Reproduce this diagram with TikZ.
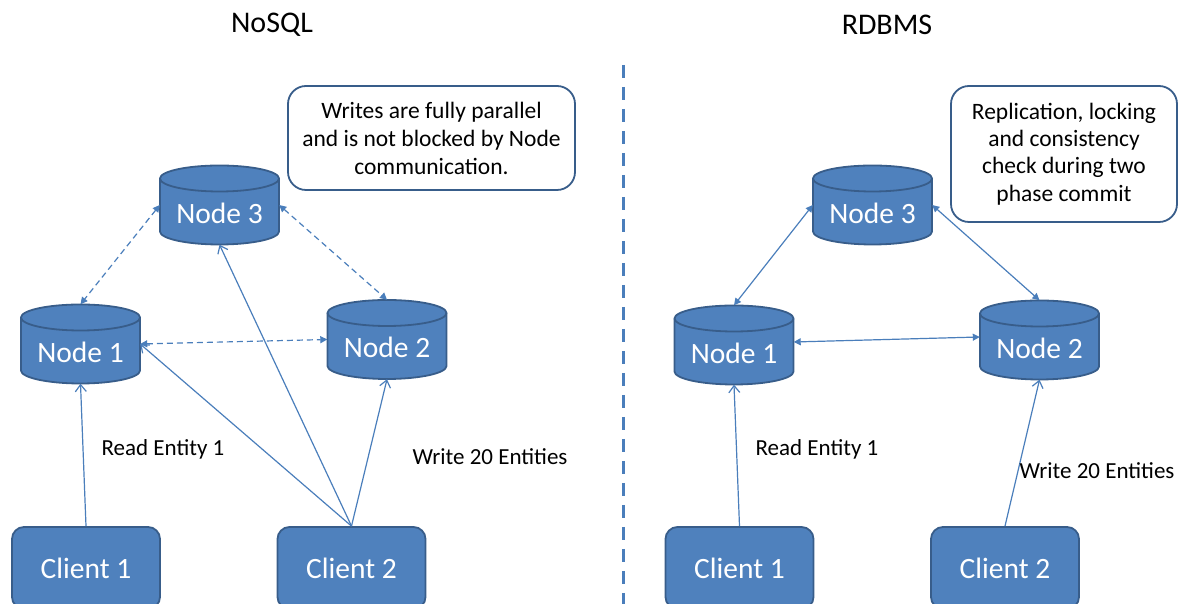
\documentclass[tikz,border=0pt]{standalone}
\usepackage{fontspec}
\setmainfont{Carlito}
\usetikzlibrary{arrows.meta}
\definecolor{cylfill}{HTML}{4F81BD}
\definecolor{cylborder}{HTML}{385D8A}
\definecolor{arrowblue}{HTML}{4A7EBB}
\tikzset{
  dbnode/.style={rectangle, minimum width=119pt, minimum height=79pt, inner sep=0pt},
  clientbox/.style={rectangle, rounded corners=12pt, draw=cylborder, line width=1.8pt, fill=cylfill,
    minimum width=148pt, minimum height=82pt, text=white, font=\fontsize{29.5}{33}\selectfont},
  callout/.style={rectangle, rounded corners=18pt, draw=cylborder, line width=1.8pt, fill=white,
    align=center, inner sep=0pt},
  titletext/.style={font=\fontsize{30}{34}\selectfont},
  labeltext/.style={font=\fontsize{23}{27}\selectfont},
  link/.style={draw=arrowblue, line width=1.2pt},
  openarrow/.style={link, -{Straight Barb[length=7pt,width=11pt,line width=1.2pt]}},
  dblarrow/.style={link, {Triangle[length=7pt,width=7pt]}-{Triangle[length=7pt,width=7pt]}},
  dasharrow/.style={dblarrow, dash pattern=on 6pt off 4pt},
  divider/.style={draw=arrowblue, line width=3pt, dash pattern=on 13pt off 9pt}
}
% \dbcyl{name}{cx}{cy}{text} ; cylinder 119 x 79, ellipse ry 13
\newcommand\dbcyl[4]{%
  \pgfmathsetmacro\cxL{#2-59.5}\pgfmathsetmacro\cxR{#2+59.5}%
  \pgfmathsetmacro\yT{#3+39.5-13}\pgfmathsetmacro\yB{#3-39.5+13}%
  \filldraw[fill=cylfill, draw=cylborder, line width=1.8pt]
    (\cxL,\yT) -- (\cxL,\yB) arc[start angle=180, end angle=360, x radius=59.5pt, y radius=13pt]
    -- (\cxR,\yT) arc[start angle=0, end angle=180, x radius=59.5pt, y radius=13pt] -- cycle;
  \draw[cylborder, line width=1.8pt] (\cxL,\yT) arc[start angle=180, end angle=360, x radius=59.5pt, y radius=13pt];
  \node[dbnode] (#1) at (#2,#3) {};
  \node[text=white, font=\fontsize{29.5}{33}\selectfont] at (#2,#3-8) {#4};
}
\begin{document}
\begin{tikzpicture}[x=1pt,y=1pt]
\useasboundingbox (0,0) rectangle (1179,604);
\clip (0,0) rectangle (1179,604);
% titles
\node[titletext] (t1) at (272,579) {NoSQL};
\node[titletext] (t2) at (887,579) {RDBMS};
% divider
\coordinate (dtop) at (623,539);
\coordinate (dbot) at (623,0);
\draw[divider] (dtop) -- (dbot);

% ---------- left: NoSQL ----------
\dbcyl{n3l}{219.5}{399}{Node 3}
\dbcyl{n1l}{80.5}{260}{Node 1}
\dbcyl{n2l}{387}{264.5}{Node 2}
\node[clientbox] (c1l) at (86,36) {Client 1};
\node[clientbox] (c2l) at (351.5,36) {Client 2};
\node[callout, minimum width=287pt, minimum height=104pt, font=\fontsize{23.5}{28}\selectfont] (bl) at (431.5,466)
  {Writes are fully parallel\\and is not blocked by Node\\communication.};

\draw[openarrow] (c1l.north) -- (n1l.south);
\draw[openarrow] (c2l.north) -- (n1l.east);
\draw[openarrow] (c2l.north) -- (n3l.south);
\draw[openarrow] (c2l.north) -- (n2l.south);
\draw[dasharrow] (n3l.west) -- (n1l.north);
\draw[dasharrow] (n3l.east) -- (n2l.north);
\draw[dasharrow] (n1l.east) -- (n2l.west);
\node[labeltext] (rl) at (163,155) {Read Entity 1};
\node[labeltext] (wl) at (490,147) {Write 20 Entities};

% ---------- right: RDBMS ----------
\dbcyl{n3r}{872.5}{399}{Node 3}
\dbcyl{n1r}{734}{259}{Node 1}
\dbcyl{n2r}{1039.5}{264}{Node 2}
\node[clientbox] (c1r) at (739.5,36) {Client 1};
\node[clientbox] (c2r) at (1005,36) {Client 2};
\node[callout, minimum width=226pt, minimum height=136pt, font=\fontsize{23.5}{27.3}\selectfont] (br) at (1064,450)
  {Replication, locking\\and consistency\\check during two\\phase commit};

\draw[openarrow] (c1r.north) -- (n1r.south);
\draw[openarrow] (c2r.north) -- (n2r.south);
\draw[dblarrow] (n3r.west) -- (n1r.north);
\draw[dblarrow] (n3r.east) -- (n2r.north);
\draw[dblarrow] ([yshift=3pt]n1r.east) -- ([yshift=3pt]n2r.west);
\node[labeltext] (rr) at (817,155) {Read Entity 1};
\node[labeltext] (wr) at (1097,133) {Write 20 Entities};
\end{tikzpicture}
\end{document}
